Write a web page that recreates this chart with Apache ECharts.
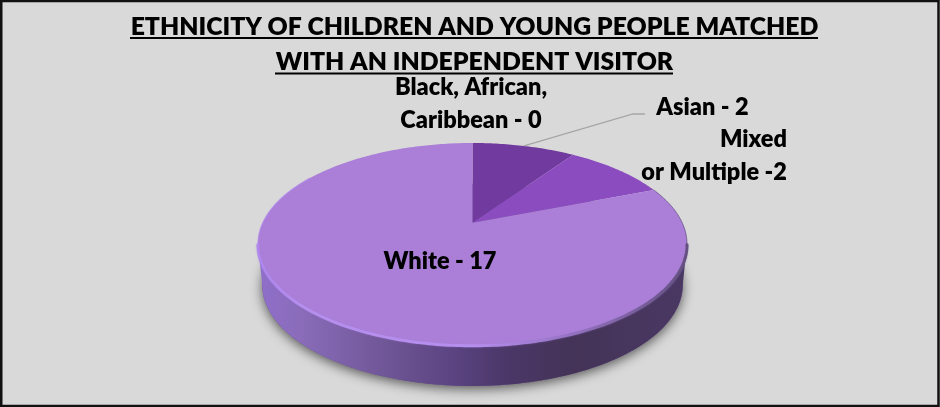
<!DOCTYPE html>
<html>
<head>
<meta charset="utf-8">
<style>html,body{margin:0;padding:0;background:#d9d9d9}#chart{width:940px;height:407px}</style>
<script src="https://cdn.jsdelivr.net/npm/echarts@6/dist/echarts.min.js"></script>
</head>
<body>
<div id="chart"></div>
<script>
// Slices run clockwise from twelve o'clock.
const categories = ['Black, African, Caribbean', 'Asian', 'Mixed or Multiple', 'White'];
const values = [0, 2, 2, 17];
const sliceLabels = ['Black, African,\nCaribbean - 0', 'Asian - 2', 'Mixed\nor Multiple -2', 'White - 17'];
const titleLines = ['ETHNICITY OF CHILDREN AND YOUNG PEOPLE MATCHED', 'WITH AN INDEPENDENT VISITOR'];

const faceColors = ['#5f2f8c', '#703a9e', '#8b4cbf', '#ab7fd8'];
const labelPlacement = [
  { x: 471, y: 104, align: 'center' },
  { x: 702.5, y: 107, align: 'center' },
  { x: 787, y: 156, align: 'right' },
  { x: 440, y: 261, align: 'center' }
];
const FONT = '"Lato","Open Sans",sans-serif';

// Perspective disc: the pie's centre projects above the middle of the visible ellipse.
const disc = { cx: 472.5, cy: 222.7, A: 209.7, B: 96.5, k: 0.2108, depth: 41, baseScale: 0.98 };
const total = values.reduce((a, b) => a + b, 0);
const startAngle = i => values.slice(0, i).reduce((a, b) => a + b, 0) / total * Math.PI * 2;

function project(theta, base) {
  const X = Math.sin(theta), Y = Math.cos(theta), w = 1 + disc.k * Y;
  const s = base ? disc.baseScale : 1;
  return [disc.cx + s * disc.A * X / w, disc.cy + (base ? disc.depth : 0) - disc.B * Y / w];
}
function arc(a0, a1, base) {
  const n = Math.max(2, Math.ceil(Math.abs(a1 - a0) / 0.015)), pts = [];
  for (let i = 0; i <= n; i++) pts.push(project(a0 + (a1 - a0) * i / n, base));
  return pts;
}
// The wall is only seen between the two silhouette angles of the projected disc.
const frontFrom = Math.acos(-disc.k), frontTo = Math.PI * 2 - frontFrom;
const hGrad = stops => ({
  type: 'linear', global: true, x: 258, y: 0, x2: 687, y2: 0,
  colorStops: stops.map(s => ({ offset: s[0], color: s[1] }))
});
const wallFill = hGrad([[0, '#8f6fca'], [0.1, '#8a6cba'], [0.3, '#6f5696'], [0.46, '#5a4380'], [0.58, '#4b3768'], [0.74, '#443357'], [1, '#4a3864']]);
const rimStroke = hGrad([[0, 'rgba(176,134,238,0.9)'], [0.1, '#b68eee'], [0.5, '#b68eee'], [0.7, '#9a76c8'], [0.88, '#7a5f9e'], [1, '#63507f']]);

function renderWall(params, api) {
  const i = params.dataIndex;
  const a0 = startAngle(i), a1 = a0 + api.value(0) / total * Math.PI * 2;
  const from = Math.max(a0, frontFrom), to = Math.min(a1, frontTo);
  if (to <= from) return { type: 'group', children: [] };
  const top = arc(from, to, false), base = arc(from, to, true).reverse();
  return {
    type: 'group',
    children: [
      { type: 'polygon', shape: { points: arc(0, Math.PI * 2, true) },
        style: { fill: '#6a5090', shadowBlur: 12, shadowColor: 'rgba(0,0,0,0.6)', shadowOffsetY: 3 } },
      { type: 'polygon', shape: { points: top.concat(base) }, style: { fill: wallFill } }
    ]
  };
}

function renderFace(params, api) {
  const i = params.dataIndex;
  const a0 = startAngle(i), a1 = a0 + api.value(0) / total * Math.PI * 2;
  if (a1 <= a0) return { type: 'group', children: [] };
  const pts = [[disc.cx, disc.cy]].concat(arc(a0, a1, false));
  const children = [{ type: 'polygon', shape: { points: pts }, style: { fill: faceColors[i] } }];
  const from = Math.max(a0, frontFrom), to = Math.min(a1, frontTo);
  if (to > from) {
    // Thin edge lines on the far side, soft bevel along the near edge of the top face.
    children.push({ type: 'polyline', shape: { points: arc(a0, from, false) },
      style: { fill: null, stroke: 'rgba(70,50,100,0.55)', lineWidth: 1 } });
    children.push({ type: 'polyline', shape: { points: arc(to, to + 0.75, false) },
      style: { fill: null, stroke: 'rgba(176,136,238,0.7)', lineWidth: 1.2 } });
    children.push({ type: 'polyline',
      shape: { points: arc(from, to, false).map(p => [p[0], p[1] + 0.8]) },
      style: { fill: null, stroke: rimStroke, lineWidth: 3, lineCap: 'round', shadowBlur: 2, shadowColor: 'rgba(150,115,205,0.5)' } });
  }
  return { type: 'group', children };
}

function renderLabel(params) {
  const i = params.dataIndex, p = labelPlacement[i];
  return { type: 'text', style: {
    text: sliceLabels[i], x: p.x, y: p.y, align: p.align, verticalAlign: 'middle',
    font: '800 23.5px ' + FONT, lineHeight: 32.5, fill: '#000' } };
}

// Leader from the middle of the Asian slice's outer edge to its label.
function renderLeader(params, api) {
  const i = params.dataIndex + 1;
  const a = startAngle(i) + api.value(0) / total * Math.PI;
  return { type: 'polyline', shape: { points: [project(a, false), [633, 114], [645, 114]] },
    style: { fill: null, stroke: '#a6a6a6', lineWidth: 1.3 } };
}

const sliceData = values.map((v, i) => ({ name: categories[i], value: v }));
const chart = echarts.init(document.getElementById('chart'), null, { renderer: 'canvas' });
chart.setOption({
  animation: false,
  backgroundColor: '#d9d9d9',
  graphic: [
    { type: 'rect', shape: { x: 1.25, y: 1, width: 937.25, height: 405 }, style: { fill: null, stroke: '#111', lineWidth: 2.5 }, silent: true },
    { type: 'text', style: { text: titleLines[0], x: 474.5, y: 27, align: 'center', verticalAlign: 'middle', font: '800 24.8px ' + FONT, fill: '#000' }, silent: true },
    { type: 'text', style: { text: titleLines[1], x: 474.5, y: 62.5, align: 'center', verticalAlign: 'middle', font: '800 24.8px ' + FONT, fill: '#000' }, silent: true },
    { type: 'line', shape: { x1: 130, y1: 38, x2: 818, y2: 38 }, style: { stroke: '#000', lineWidth: 2 }, silent: true },
    { type: 'line', shape: { x1: 275, y1: 73.5, x2: 673, y2: 73.5 }, style: { stroke: '#000', lineWidth: 2 }, silent: true }
  ],
  series: [
    { type: 'custom', coordinateSystem: 'none', silent: true, renderItem: renderWall, data: sliceData, z: 1 },
    { type: 'custom', coordinateSystem: 'none', silent: true, renderItem: renderFace, data: sliceData, z: 2 },
    { type: 'custom', coordinateSystem: 'none', silent: true, renderItem: renderLeader, data: [sliceData[1]], z: 3 },
    { type: 'custom', coordinateSystem: 'none', silent: true, renderItem: renderLabel, data: sliceData, z: 4 }
  ]
});
</script>
</body>
</html>
